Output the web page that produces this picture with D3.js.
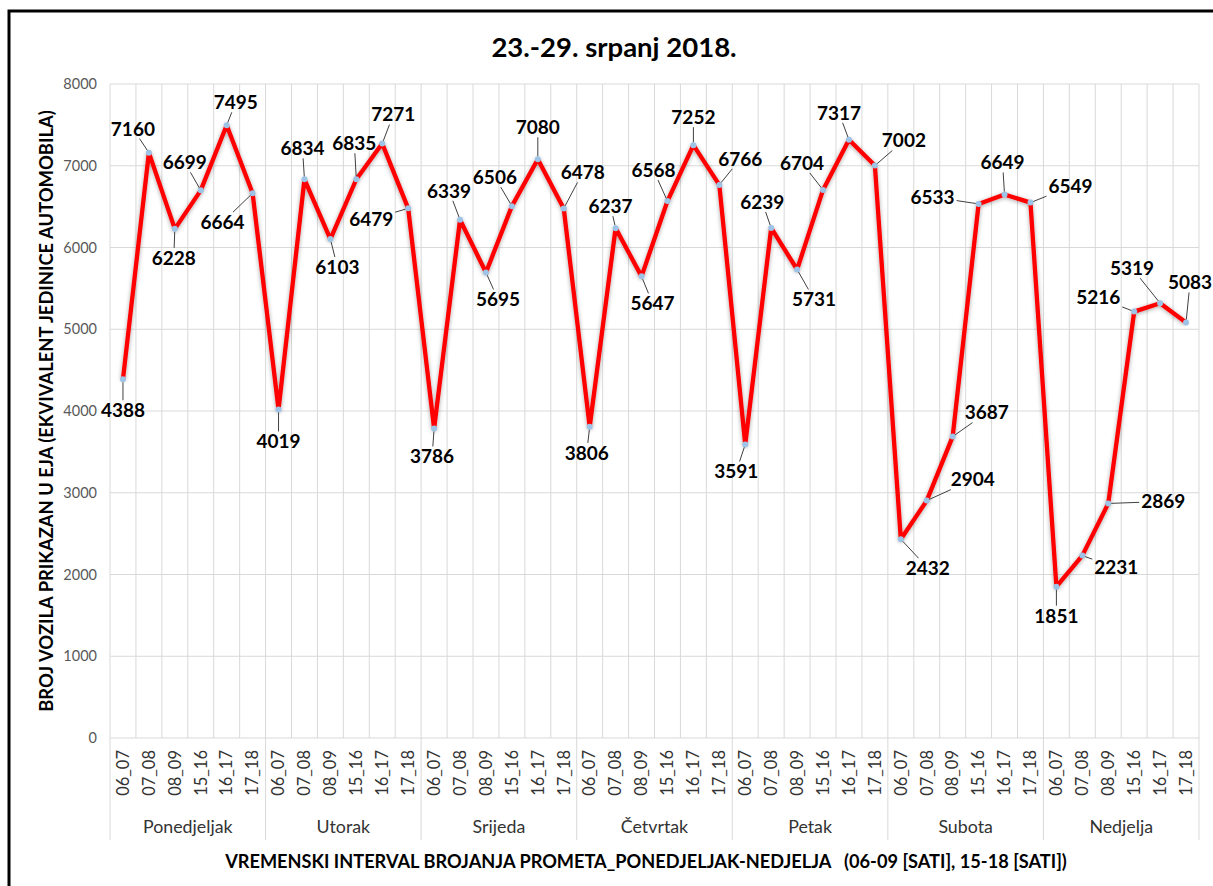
<!DOCTYPE html>
<html>
<head>
<meta charset="utf-8">
<script src="https://cdn.jsdelivr.net/npm/d3@7/dist/d3.min.js"></script>
<style>
	body { margin: 0; background: #fff; }
	svg { display: block; font-family: Lato, "Open Sans", sans-serif; }
</style>
</head>
<body>
<svg id="chart" width="1213" height="886"></svg>
<script>
var days = ['Ponedjeljak', 'Utorak', 'Srijeda', 'Četvrtak', 'Petak', 'Subota', 'Nedjelja']
var intervals = ['06_07', '07_08', '08_09', '15_16', '16_17', '17_18']

// EJA counts per day, one value per interval
var ponedjeljak = [4388, 7160, 6228, 6699, 7495, 6664]
var utorak      = [4019, 6834, 6103, 6835, 7271, 6479]
var srijeda     = [3786, 6339, 5695, 6506, 7080, 6478]
var cetvrtak    = [3806, 6237, 5647, 6568, 7252, 6766]
var petak       = [3591, 6239, 5731, 6704, 7317, 7002]
var subota      = [2432, 2904, 3687, 6533, 6649, 6549]
var nedjelja    = [1851, 2231, 2869, 5216, 5319, 5083]

var yTicks = [0, 1000, 2000, 3000, 4000, 5000, 6000, 7000, 8000]

var title = '23.-29. srpanj 2018.'
var xTitle = 'VREMENSKI INTERVAL BROJANJA PROMETA_PONEDJELJAK-NEDJELJA\u00a0\u00a0 (06-09 [SATI], 15-18 [SATI])'
var yTitle = 'BROJ VOZILA PRIKAZAN U EJA (EKVIVALENT JEDINICE AUTOMOBILA)'

// where each data label was dragged to in the original (dx, dy from its point)
var labelOffsets = [
	[0, 31], [-16, -24], [-1, 29], [-16, -28], [9, -23], [-30, 29],
	[0, 32], [-2, -31], [7, 28], [-2, -36], [11, -29], [-37, 11],
	[-2, 28], [-11, -29], [12, 27], [-17, -29], [0, -32], [19, -36],
	[-3, 26], [-5, -22], [11, 27], [-14, -31], [0, -28], [21, -26],
	[-9, 27], [-9, -26], [17, 30], [-21, -27], [-10, -27], [29, -25],
	[27, 29], [46, -21], [34, -24], [-46, -7], [-2, -32], [40, -16],
	[0, 29], [34, 12], [55, -2], [-36, -14], [-28, -35], [4, -40]
]

var allDays = [ponedjeljak, utorak, srijeda, cetvrtak, petak, subota, nedjelja]

function drawChart() {
	var data = []
	days.forEach(function(day, di) {
		intervals.forEach(function(iv, ii) {
			data.push({ day: day, interval: iv, key: day + '|' + iv, value: allDays[di][ii] })
		})
	})

	var svg = d3.select('#chart')
	var pLeft = 110, pRight = 1199, pTop = 84, pBottom = 738

	var x = d3.scaleBand()
		.domain(data.map(function(d) { return d.key }))
		.range([pLeft, pRight])
		.padding(0)

	var y = d3.scaleLinear()
		.domain([0, 8000])
		.range([pBottom, pTop])

	// shadow under the red line
	var defs = svg.append('defs')
	var f = defs.append('filter').attr('id', 'glow')
		.attr('x', '-10%').attr('y', '-10%').attr('width', '120%').attr('height', '120%')
	f.append('feDropShadow')
		.attr('dx', 0).attr('dy', 1).attr('stdDeviation', 2.2)
		.attr('flood-color', '#000').attr('flood-opacity', 0.35)

	// outer frame
	svg.append('rect')
		.attr('x', 9).attr('y', 11).attr('width', 1230).attr('height', 900)
		.attr('fill', 'none').attr('stroke', '#000').attr('stroke-width', 3)

	// horizontal grid
	svg.append('g')
		.selectAll('line')
		.data(yTicks)
		.enter().append('line')
			.attr('x1', pLeft).attr('x2', pRight)
			.attr('y1', function(d) { return y(d) }).attr('y2', function(d) { return y(d) })
			.attr('stroke', '#d9d9d9').attr('stroke-width', 1)

	// vertical grid at category boundaries
	var bounds = data.map(function(d) { return x(d.key) }).concat([pRight])
	svg.append('g')
		.selectAll('line')
		.data(bounds)
		.enter().append('line')
			.attr('x1', function(d) { return d }).attr('x2', function(d) { return d })
			.attr('y1', pTop).attr('y2', pBottom)
			.attr('stroke', '#d9d9d9').attr('stroke-width', 1)

	// day separators below the axis
	var dayBounds = days.map(function(d) { return x(d + '|' + intervals[0]) }).concat([pRight])
	svg.append('g')
		.selectAll('line')
		.data(dayBounds)
		.enter().append('line')
			.attr('x1', function(d) { return d }).attr('x2', function(d) { return d })
			.attr('y1', pBottom).attr('y2', 840)
			.attr('stroke', '#d9d9d9').attr('stroke-width', 1)

	// y axis labels
	var yAxis = d3.axisLeft(y).tickValues(yTicks).tickFormat(d3.format('d')).tickSize(0).tickPadding(13)
	var ya = svg.append('g')
		.attr('transform', 'translate(' + pLeft + ',0)')
		.call(yAxis)
	ya.select('.domain').remove()
	ya.selectAll('text')
		.attr('fill', '#595959')
		.style('font-size', '14.5px')
		.style('font-family', 'Lato, sans-serif')

	// interval labels (rotated)
	svg.append('g')
		.selectAll('text')
		.data(data)
		.enter().append('text')
			.attr('transform', function(d) {
				return 'translate(' + (x(d.key) + x.bandwidth() / 2) + ',750) rotate(-90)'
			})
			.attr('text-anchor', 'end')
			.attr('dy', '0.35em')
			.attr('fill', '#333')
			.style('font-size', '16.5px')
			.text(function(d) { return d.interval })

	// day labels
	svg.append('g')
		.selectAll('text')
		.data(days)
		.enter().append('text')
			.attr('x', function(d, i) { return (dayBounds[i] + dayBounds[i + 1]) / 2 })
			.attr('y', 827)
			.attr('dy', '0.35em')
			.attr('text-anchor', 'middle')
			.attr('fill', '#333')
			.style('font-size', '17.8px')
			.text(function(d) { return d })

	// the line
	var line = d3.line()
		.x(function(d) { return x(d.key) + x.bandwidth() / 2 })
		.y(function(d) { return y(d.value) })

	svg.append('path')
		.datum(data)
		.attr('d', line)
		.attr('fill', 'none')
		.attr('stroke', '#ff0000')
		.attr('stroke-width', 4.3)
		.attr('stroke-linejoin', 'round')
		.attr('filter', 'url(#glow)')

	svg.append('g')
		.selectAll('circle')
		.data(data)
		.enter().append('circle')
			.attr('cx', function(d) { return x(d.key) + x.bandwidth() / 2 })
			.attr('cy', function(d) { return y(d.value) })
			.attr('r', 3)
			.attr('fill', '#9dc3e6')

	// leader lines + data labels
	var hw = 24, hh = 10
	var lbl = svg.append('g')
	data.forEach(function(d, i) {
		var px = x(d.key) + x.bandwidth() / 2
		var py = y(d.value)
		var cx = px + labelOffsets[i][0]
		var cy = py + labelOffsets[i][1]
		var dx = cx - px, dy = cy - py
		var s = Math.min(dx ? hw / Math.abs(dx) : 99, dy ? hh / Math.abs(dy) : 99)
		if (s < 1) {
			var ex = cx - dx * s, ey = cy - dy * s
			var len = Math.sqrt(dx * dx + dy * dy)
			var sx = px + dx / len * 3, sy = py + dy / len * 3
			if (Math.hypot(ex - sx, ey - sy) > 3) {
				lbl.append('line')
					.attr('x1', sx).attr('y1', sy).attr('x2', ex).attr('y2', ey)
					.attr('stroke', '#404040').attr('stroke-width', 1)
			}
		}
		lbl.append('text')
			.attr('x', cx).attr('y', cy)
			.attr('dy', '0.36em')
			.attr('text-anchor', 'middle')
			.attr('fill', '#000')
			.style('font-size', '19px')
			.style('font-weight', 'bold')
			.text(d.value)
	})

	// titles
	svg.append('text')
		.attr('x', 614).attr('y', 47)
		.attr('dy', '0.35em')
		.attr('text-anchor', 'middle')
		.style('font-size', '27.5px')
		.style('font-weight', 'bold')
		.text(title)

	svg.append('text')
		.attr('x', 646).attr('y', 862)
		.attr('dy', '0.35em')
		.attr('text-anchor', 'middle')
		.style('font-size', '18.2px')
		.style('font-weight', 'bold')
		.text(xTitle)

	svg.append('text')
		.attr('transform', 'translate(47,411) rotate(-90)')
		.attr('dy', '0.35em')
		.attr('text-anchor', 'middle')
		.style('font-size', '18.4px')
		.style('font-weight', 'bold')
		.text(yTitle)
}

drawChart()
</script>
</body>
</html>
